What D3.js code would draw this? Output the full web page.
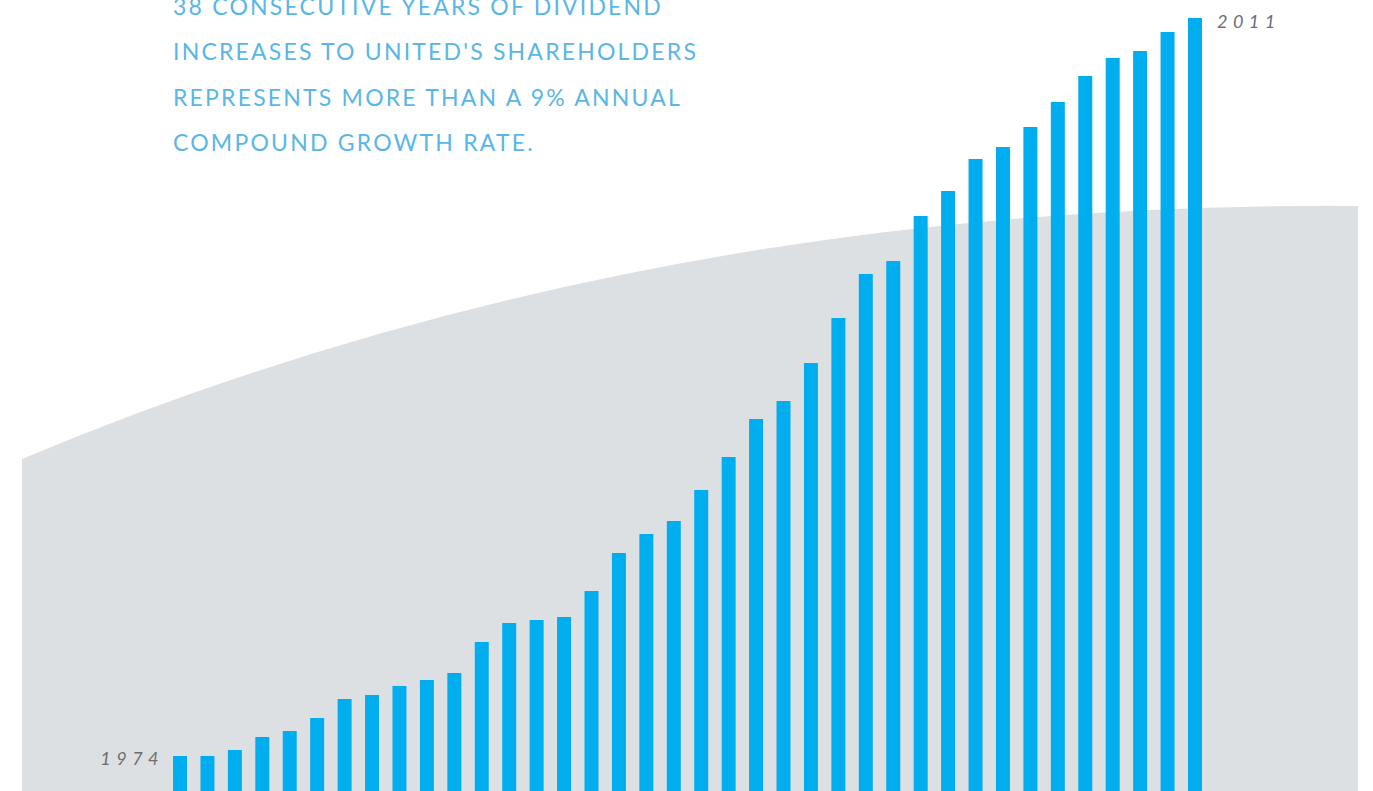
<!DOCTYPE html>
<html>
<head>
<meta charset="utf-8">
<script src="https://cdn.jsdelivr.net/npm/d3@7"></script>
<style>
  html, body { margin: 0; padding: 0; background: #ffffff; overflow: hidden; }
  svg { display: block; }
</style>
</head>
<body>
<div id="chart"></div>
<script>
// Daten: Jahre und relative Dividendenhöhe
const years = d3.range(1974, 2012);
const values = [35, 35, 41, 54, 60, 73, 92, 96, 105, 111, 118, 149, 168, 171, 174, 200,
                238, 257, 270, 301, 334, 372, 390, 428, 473, 517, 530, 575, 600, 632,
                644, 664, 689, 715, 733, 740, 759, 773];
const titleLines = [
  "38 CONSECUTIVE YEARS OF DIVIDEND",
  "INCREASES TO UNITED'S SHAREHOLDERS",
  "REPRESENTS MORE THAN A 9% ANNUAL",
  "COMPOUND GROWTH RATE."
];
const yearLabels = [1974, 2011];

const W = 1373, H = 791;

const svg = d3.select("#chart").append("svg")
  .attr("width", W)
  .attr("height", H);

// Farben
const cBar = "#00aeef";
const cBack = "#dde0e3";
const cTitle = "#5ab6e6";
const cYear = "#6d6e71";

// Hintergrund-Form (graue Fläche mit Bogen)
const bg = d3.path();
bg.moveTo(22, H);
bg.lineTo(22, 459);
bg.quadraticCurveTo(640, 200, 1358, 206);
bg.lineTo(1358, H);
bg.closePath();
svg.append("path")
  .attr("d", bg.toString())
  .attr("fill", cBack);

// Skalen
const x = d3.scaleBand()
  .domain(years)
  .range([166.3, 1208.7])
  .paddingInner(0.49)
  .paddingOuter(0.245);

const y = d3.scaleLinear()
  .domain([0, H])
  .range([H, 0]);

// Balken
svg.append("g")
  .selectAll("rect")
  .data(years.map((yr, i) => ({ yr, v: values[i] })))
  .join("rect")
  .attr("x", d => x(d.yr))
  .attr("y", d => y(d.v))
  .attr("width", x.bandwidth())
  .attr("height", d => y(0) - y(d.v))
  .attr("fill", cBar);

// Jahres-Labels
const yearStyle = sel => sel
  .style("font-family", "Lato, 'Open Sans', sans-serif")
  .style("font-style", "italic")
  .style("font-size", "18px")
  .style("letter-spacing", "5.5px")
  .style("fill", cYear);

svg.append("text")
  .attr("x", x(yearLabels[0]) - 9)
  .attr("y", 765)
  .attr("text-anchor", "end")
  .call(yearStyle)
  .text(yearLabels[0]);

svg.append("text")
  .attr("x", x(yearLabels[1]) + x.bandwidth() + 15)
  .attr("y", 28)
  .attr("text-anchor", "start")
  .call(yearStyle)
  .text(yearLabels[1]);

// Titeltext
svg.append("g")
  .selectAll("text")
  .data(titleLines)
  .join("text")
  .attr("x", 173)
  .attr("y", (d, i) => 15 + i * 45.3)
  .style("font-family", "Lato, 'Open Sans', sans-serif")
  .style("font-size", "23px")
  .style("letter-spacing", "2.2px")
  .style("fill", cTitle)
  .text(d => d);
</script>
</body>
</html>
